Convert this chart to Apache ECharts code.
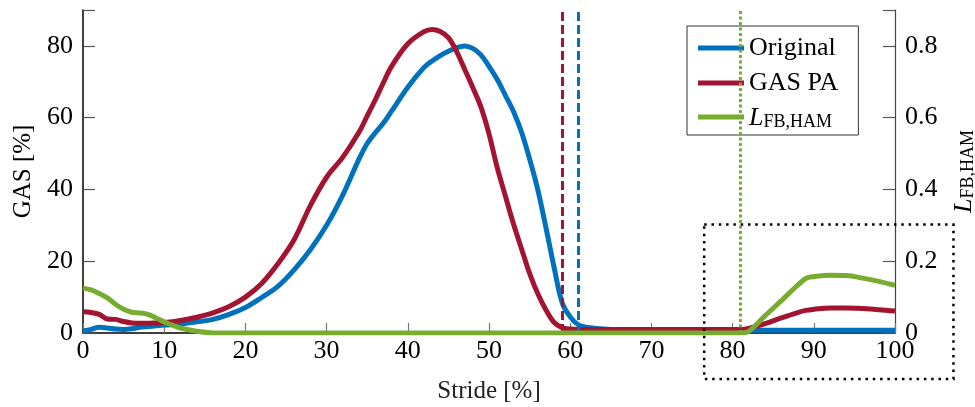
<!DOCTYPE html>
<html>
<head>
<meta charset="utf-8">
<script src="https://cdn.jsdelivr.net/npm/echarts/dist/echarts.min.js"></script>
<style>
  html, body { margin: 0; padding: 0; background: #fff; }
  #gasChart { width: 975px; height: 407px; }
</style>
</head>
<body>
<div id="gasChart"></div>
<script>
// stride [%] sample points
const stride = [0, 1, 2, 3, 4, 5, 6, 7, 8, 9, 10, 12, 14, 16, 18, 20, 22, 24, 26, 28,
  30, 32, 34, 35, 36, 37, 38, 40, 42, 43, 44, 45, 46, 47, 48, 49, 50, 51, 52, 53,
  54, 55, 56, 57, 58, 59, 60, 61, 62, 63, 65, 70, 75, 80, 81, 82, 84, 86, 88, 89,
  90, 92, 94, 96, 98, 100];
// GAS [%]
const original = [0.6, 1.0, 1.6, 1.4, 1.1, 1.0, 1.2, 1.6, 1.8, 2.0, 2.2, 2.5, 3.1, 3.8, 5.2, 7.1, 9.9, 13, 17.6, 23.2,
  30, 38.5, 48.5, 52.8, 55.8, 58.5, 61.8, 68.5, 74, 75.8, 77.3, 78.5, 79.5, 80, 79.3, 77.5, 74.3, 70.7, 66.3, 61.8,
  56, 48.5, 40, 29.5, 18.5, 8.5, 4.5, 2.3, 1.6, 1.3, 1.0, 0.9, 0.9, 0.8, 0.8, 0.8, 0.8, 0.8, 0.8, 0.8,
  0.8, 0.8, 0.8, 0.8, 0.8, 0.8];
const gasPA = [5.9, 5.7, 5.2, 3.9, 3.8, 3.2, 2.8, 2.7, 2.7, 2.8, 2.9, 3.5, 4.4, 5.6, 7.4, 10, 13.8, 19.3, 26, 35.5,
  43.4, 49, 56, 60.5, 65, 69.8, 74.3, 80.6, 84, 84.6, 84, 82.3, 78.5, 73.5, 68.4, 63, 55.5, 46.2, 38.3, 30.5,
  23.5, 16.6, 11, 6.5, 3, 1.5, 1.1, 1.0, 1.0, 1.0, 1.0, 1.0, 1.0, 1.0, 1.0, 1.3, 2.6, 4.2, 5.7, 6.3,
  6.6, 7.0, 7.0, 6.8, 6.5, 6.1];
// L_FB,HAM (right axis)
const lfbHam = [0.125, 0.12, 0.11, 0.098, 0.08, 0.066, 0.058, 0.056, 0.052, 0.042, 0.031, 0.014, 0.005, 0, 0, 0, 0, 0, 0, 0,
  0, 0, 0, 0, 0, 0, 0, 0, 0, 0, 0, 0, 0, 0, 0, 0, 0, 0, 0, 0,
  0, 0, 0, 0, 0, 0, 0, 0, 0, 0, 0, 0, 0, 0, 0, 0.005, 0.048, 0.09, 0.133, 0.152,
  0.157, 0.161, 0.16, 0.153, 0.144, 0.133];

// event markers (stride %)
const markOriginal = 61;
const markGasPA = 59;
const markLfb = 81;

// dotted zoom box, in axis units (x: stride, y: left GAS axis)
const zoomBoxX = [76.5, 107.2];
const zoomBoxY = [30.2, -12.8];

const xTicks = { min: 0, max: 100, step: 10 };
const yLeft = { min: 0, max: 90, step: 20 };
const yRight = { min: 0, max: 0.9, step: 0.2 };

const seriesNames = ["Original", "GAS PA", "LFBHAM"];
const colors = ["#0072BD", "#A2142F", "#77AC30"];

const font = "Liberation Serif";
const richL = {
  i: { fontFamily: font, fontSize: 26, fontStyle: "italic", color: "#000", verticalAlign: "bottom", lineHeight: 28 },
  s: { fontFamily: font, fontSize: 18, color: "#000", verticalAlign: "bottom", lineHeight: 26 },
};

function pairs(xs, ys) {
  return xs.map((x, i) => [x, ys[i]]);
}

let myChart = echarts.init(document.getElementById("gasChart"));

let options = {
  animation: false,
  backgroundColor: "#fff",
  grid: { left: 83, right: 80, top: 10, bottom: 74, containLabel: false, outerBoundsMode: "none" },
  legend: {
    orient: "vertical",
    left: 687,
    top: 26,
    padding: [7, 20, 4, 11],
    itemGap: 5,
    itemWidth: 46,
    itemHeight: 5,
    icon: "rect",
    backgroundColor: "#fff",
    borderColor: "#333",
    borderWidth: 1,
    data: seriesNames,
    formatter: function (name) {
      if (name === "LFBHAM") return "{i|L}{s|FB,HAM}";
      return name;
    },
    textStyle: {
      fontFamily: font,
      fontSize: 26,
      color: "#000",
      lineHeight: 30,
      rich: richL,
    },
  },
  xAxis: {
    type: "value",
    min: xTicks.min,
    max: xTicks.max,
    interval: xTicks.step,
    name: "Stride [%]",
    nameLocation: "middle",
    nameGap: 46,
    nameTextStyle: { fontFamily: font, fontSize: 25, color: "#222" },
    axisLine: { lineStyle: { color: "#000", width: 1.5 } },
    axisTick: { inside: true, length: 10, lineStyle: { color: "#777", width: 1.2 } },
    axisLabel: { fontFamily: font, fontSize: 26, color: "#000", margin: 5 },
    splitLine: { show: false },
  },
  yAxis: [
    {
      type: "value",
      min: yLeft.min,
      max: yLeft.max,
      interval: yLeft.step,
      name: "GAS [%]",
      nameLocation: "middle",
      nameGap: 45,
      nameTextStyle: { fontFamily: font, fontSize: 25, color: "#000" },
      axisLine: { show: true, lineStyle: { color: "#000", width: 1.5 } },
      axisTick: { show: true, inside: true, length: 12, lineStyle: { color: "#555", width: 1.2 } },
      axisLabel: {
        fontFamily: font, fontSize: 26, color: "#000", margin: 10,
        formatter: (v) => (v > 85 ? "" : v),
      },
      splitLine: { show: false },
    },
    {
      type: "value",
      position: "right",
      min: yRight.min,
      max: yRight.max,
      interval: yRight.step,
      name: "{i|L}{s|FB,HAM}",
      nameLocation: "middle",
      nameRotate: 90,
      nameGap: 54,
      nameTextStyle: { rich: richL },
      axisLine: { show: true, lineStyle: { color: "#444", width: 1.2 } },
      axisTick: { show: true, inside: true, length: 12, lineStyle: { color: "#555", width: 1.2 } },
      axisLabel: {
        fontFamily: font, fontSize: 26, color: "#000", margin: 10,
        formatter: (v) => (v > 0.85 ? "" : v === 0 ? "0" : v.toFixed(1)),
      },
      splitLine: { show: false },
    },
  ],
  series: [
    {
      name: seriesNames[0],
      type: "line",
      data: pairs(stride, original),
      symbol: "none",
      smooth: 0.35,
      color: colors[0],
      lineStyle: { width: 5, color: colors[0] },
      z: 3,
      markLine: {
        silent: true,
        symbol: "none",
        label: { show: false },
        lineStyle: { color: colors[0], width: 3, type: [9, 4] },
        data: [{ xAxis: markOriginal }],
      },
    },
    {
      name: seriesNames[1],
      type: "line",
      data: pairs(stride, gasPA),
      symbol: "none",
      smooth: 0.35,
      color: colors[1],
      lineStyle: { width: 5, color: colors[1] },
      z: 4,
      markLine: {
        silent: true,
        symbol: "none",
        label: { show: false },
        lineStyle: { color: colors[1], width: 3, type: [9, 4] },
        data: [{ xAxis: markGasPA }],
      },
    },
    {
      name: seriesNames[2],
      type: "line",
      yAxisIndex: 1,
      data: pairs(stride, lfbHam),
      symbol: "none",
      smooth: 0.35,
      color: colors[2],
      lineStyle: { width: 5, color: colors[2] },
      z: 5,
      markLine: {
        silent: true,
        symbol: "none",
        label: { show: false },
        lineStyle: { color: colors[2], width: 3, type: [3, 2.5] },
        data: [{ xAxis: markLfb }],
      },
    },
  ],
};
myChart.setOption(options);

// dotted zoom box positioned through the chart's own scales
const p1 = myChart.convertToPixel({ gridIndex: 0 }, [zoomBoxX[0], zoomBoxY[0]]);
const p2 = myChart.convertToPixel({ gridIndex: 0 }, [zoomBoxX[1], zoomBoxY[1]]);
myChart.setOption({
  graphic: [
    {
      type: "rect",
      z: 100,
      shape: { x: p1[0], y: p1[1], width: p2[0] - p1[0], height: p2[1] - p1[1] },
      style: { fill: "none", stroke: "#000", lineWidth: 2.5, lineDash: [2.5, 4.8] },
      silent: true,
    },
  ],
});
</script>
</body>
</html>
